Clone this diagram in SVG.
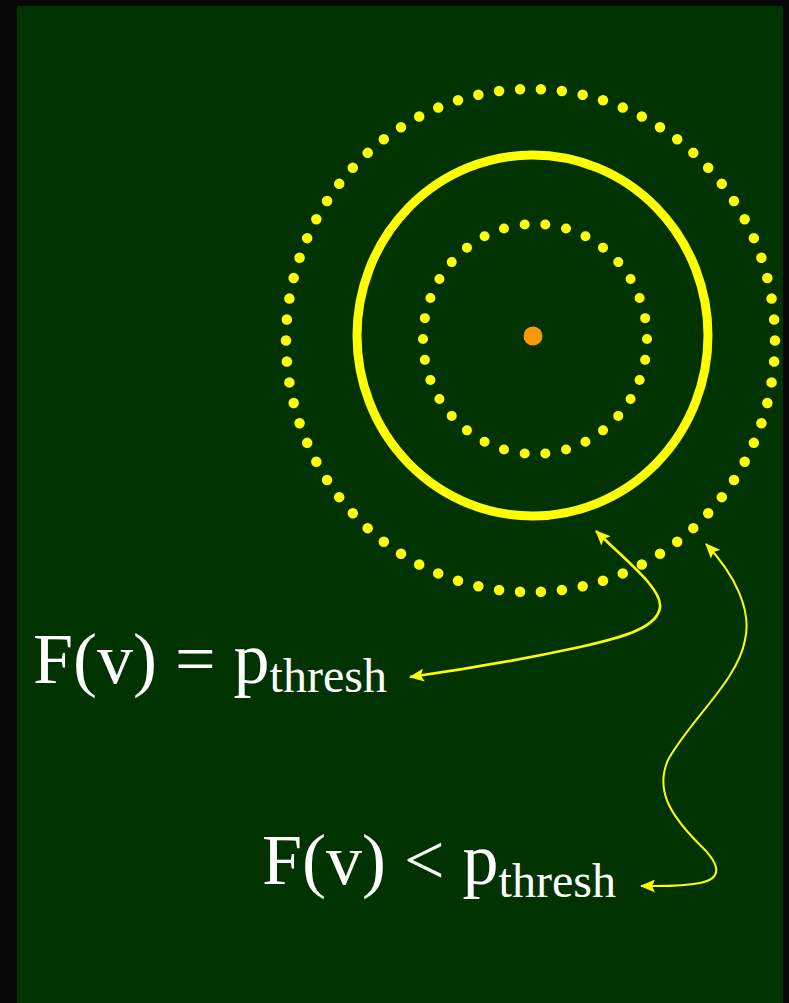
<svg xmlns="http://www.w3.org/2000/svg" width="789" height="1003" viewBox="0 0 789 1003">
  <style>
    .lbl { font-family: "Liberation Serif", "Times New Roman", serif; fill: #ffffff; font-size: 72px; }
    .sub { font-size: 48px; }
    .dots { fill: none; stroke: #ffff00; stroke-linecap: round; stroke-dasharray: 0 1; }
    .conn { fill: none; stroke: #ffff00; marker-start: url(#ah); marker-end: url(#ah); }
  </style>
  <defs>
    <marker id="ah" markerUnits="userSpaceOnUse" markerWidth="16" markerHeight="13" refX="14" refY="6.5" orient="auto-start-reverse">
      <path d="M0,0 L15,6.5 L0,13 L3,6.5 z" fill="#ffff00"/>
    </marker>
  </defs>
  <rect x="0" y="0" width="789" height="1003" fill="#080808"/>
  <rect x="17" y="6" width="766" height="997" fill="#003300"/>

  <g id="outer-dotted">
    <ellipse class="dots" cx="530.5" cy="340.5" rx="244.5" ry="251.5" pathLength="74" stroke-width="10.5"/>
  </g>
  <g id="threshold-circle">
    <ellipse cx="532.5" cy="335.5" rx="175.5" ry="180.5" fill="none" stroke="#ffff00" stroke-width="9"/>
  </g>
  <g id="inner-dotted">
    <ellipse class="dots" cx="535" cy="339" rx="112" ry="115" pathLength="34" stroke-width="10"/>
  </g>
  <g id="center">
    <circle cx="533" cy="336" r="9.5" fill="#ff9900"/>
  </g>

  <g id="connectors">
    <path class="conn" stroke-width="2.6" d="M 596 531 C 625 560, 662 588, 660 607 C 658 627, 625 637, 580 647 C 520 660, 460 670, 410 677"/>
    <path class="conn" stroke-width="2" d="M 706 544 C 735 575, 752 610, 745 640 C 738 680, 690 720, 668 760 C 655 790, 670 815, 700 845 C 718 862, 725 878, 700 883 C 680 887, 660 886, 641 886"/>
  </g>

  <g id="label-equal">
    <text class="lbl" x="33" y="683">F(v) = p<tspan class="sub" dy="9">thresh</tspan></text>
  </g>
  <g id="label-less">
    <text class="lbl" x="262" y="884">F(v) &lt; p<tspan class="sub" dy="13">thresh</tspan></text>
  </g>
</svg>
